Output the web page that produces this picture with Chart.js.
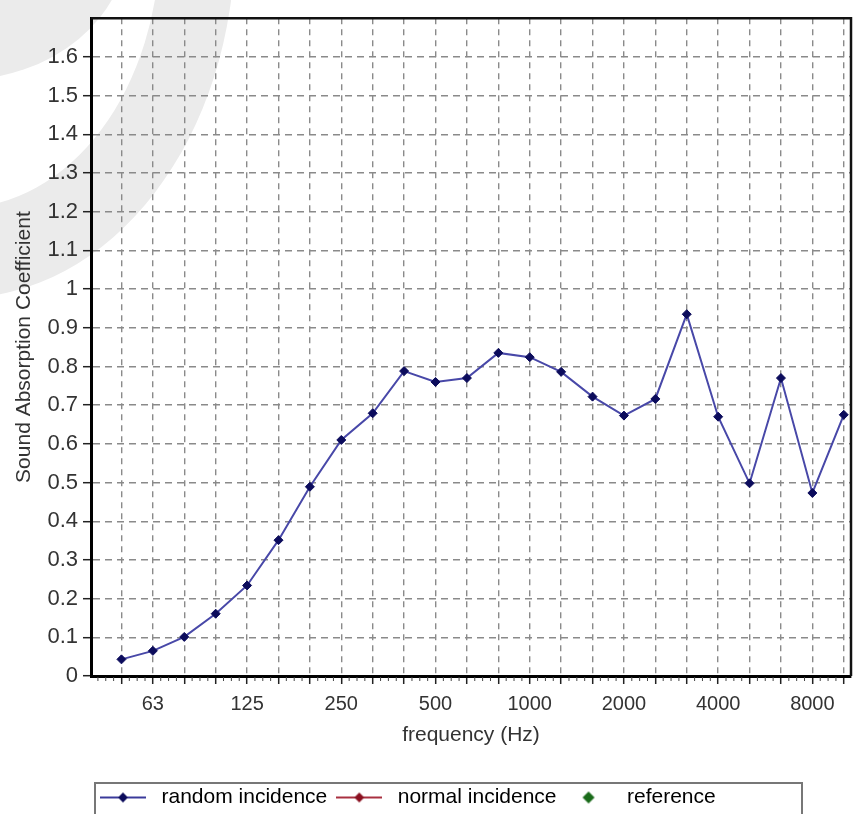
<!DOCTYPE html>
<html>
<head>
<meta charset="utf-8">
<script src="https://cdn.jsdelivr.net/npm/chart.js@4.4.1/dist/chart.umd.min.js"></script>
<style>
  body { margin: 0; background: #fff; }
</style>
</head>
<body>
<canvas id="myChart" width="862" height="814"></canvas>
<script>
// data
const freqBands = ['50', '63', '80', '100', '125', '160', '200', '250', '315', '400', '500', '630',
  '800', '1000', '1250', '1600', '2000', '2500', '3150', '4000', '5000', '6300', '8000', '10000'];
const randomIncidence = [0.043, 0.065, 0.101, 0.161, 0.234, 0.351, 0.489, 0.610, 0.679, 0.788, 0.760, 0.770,
  0.835, 0.824, 0.786, 0.722, 0.673, 0.716, 0.935, 0.670, 0.498, 0.770, 0.473, 0.675];
const normalIncidence = [];
const referenceValues = [];
const xTickLabels = ['63', '125', '250', '500', '1000', '2000', '4000', '8000'];
const yTicks = [0, 0.1, 0.2, 0.3, 0.4, 0.5, 0.6, 0.7, 0.8, 0.9, 1, 1.1, 1.2, 1.3, 1.4, 1.5, 1.6];
const seriesNames = ['random incidence', 'normal incidence', 'reference'];

const toPoints = arr => arr.map((v, i) => ({ x: i, y: v }));

// little legend icons: line with a diamond in the middle
function makeIcon(lineColor, dotColor, withLine, r) {
  const c = document.createElement('canvas');
  c.width = 46; c.height = 14;
  const g = c.getContext('2d');
  if (withLine) {
    g.strokeStyle = lineColor; g.lineWidth = 2;
    g.beginPath(); g.moveTo(0, 7); g.lineTo(46, 7); g.stroke();
  }
  g.fillStyle = dotColor;
  g.beginPath(); g.moveTo(23, 7 - r); g.lineTo(23 + r, 7); g.lineTo(23, 7 + r); g.lineTo(23 - r, 7); g.closePath(); g.fill();
  return c;
}
const icons = [
  makeIcon('#3a3a9a', '#0c0c5c', true, 5),
  makeIcon('#a83040', '#8a1020', true, 5),
  makeIcon('#1a6b1a', '#1a6b1a', false, 6)
];

// white page + faint watermark arcs
const background = {
  id: 'background',
  beforeDraw(chart) {
    const ctx = chart.ctx;
    ctx.save();
    ctx.fillStyle = '#fff';
    ctx.fillRect(0, 0, chart.width, chart.height);
    ctx.fillStyle = '#ebebeb';
    ctx.beginPath();
    ctx.ellipse(-40, -60, 275, 358, 0, 0, Math.PI * 2);
    ctx.ellipse(-40, -60, 200, 268, 0, 0, Math.PI * 2);
    ctx.fill('evenodd');
    ctx.beginPath();
    ctx.ellipse(-40, -60, 168, 140, 0, 0, Math.PI * 2);
    ctx.fill();
    ctx.restore();
  }
};

// frame round the plot, minor ticks, box round the legend
const frame = {
  id: 'frame',
  afterDraw(chart) {
    const ctx = chart.ctx;
    const a = chart.chartArea;
    const xs = chart.scales.x;
    ctx.save();
    ctx.strokeStyle = '#111';
    ctx.lineWidth = 2.5;
    ctx.beginPath();
    ctx.moveTo(a.left, a.top); ctx.lineTo(a.right, a.top); ctx.lineTo(a.right, a.bottom);
    ctx.stroke();
    // minor ticks under the frequency axis
    ctx.strokeStyle = '#444';
    ctx.lineWidth = 1;
    ctx.beginPath();
    for (let i = -1; i < freqBands.length; i++) {
      for (let k = 1; k < 4; k++) {
        const px = xs.getPixelForValue(i + k / 4);
        if (px <= a.left + 2 || px >= a.right - 1) continue;
        ctx.moveTo(px, a.bottom + 1); ctx.lineTo(px, a.bottom + 5);
      }
    }
    ctx.stroke();
    const lg = chart.legend;
    ctx.strokeStyle = '#777';
    ctx.lineWidth = 2;
    ctx.strokeRect(lg.left + 4, lg.top, 707, 60);
    ctx.restore();
  }
};

const data = {
  datasets: [{
    label: seriesNames[0],
    data: toPoints(randomIncidence),
    borderColor: '#4848a8',
    borderWidth: 2,
    pointStyle: 'rectRot',
    pointRadius: 4.5,
    pointBackgroundColor: '#0c0c5c',
    pointBorderColor: '#0c0c5c',
    pointBorderWidth: 1
  }, {
    label: seriesNames[1],
    data: toPoints(normalIncidence),
    borderColor: '#a83040',
    pointStyle: 'rectRot',
    pointBackgroundColor: '#8a1020'
  }, {
    label: seriesNames[2],
    data: toPoints(referenceValues),
    showLine: false,
    pointStyle: 'rectRot',
    pointBackgroundColor: '#1a6b1a'
  }]
};

const config = {
  type: 'line',
  data,
  plugins: [background, frame],
  options: {
    responsive: false,
    animation: false,
    layout: { padding: { top: 14, right: 11, left: 0, bottom: 0 } },
    plugins: {
      tooltip: { enabled: false },
      legend: {
        position: 'bottom',
        align: 'start',
        fullSize: false,
        maxHeight: 31,
        labels: {
          usePointStyle: true,
          pointStyleWidth: 56,
          padding: 4,
          color: '#222',
          font: { family: 'Liberation Sans, Arial, sans-serif', size: 21 },
          generateLabels: () => seriesNames.map((name, i) => ({
            text: name,
            pointStyle: icons[i],
            fillStyle: 'transparent',
            strokeStyle: 'transparent',
            lineWidth: 0,
            hidden: false,
            datasetIndex: i
          }))
        }
      }
    },
    scales: {
      x: {
        type: 'linear',
        min: -0.97,
        max: 23.23,
        afterBuildTicks: s => { s.ticks = freqBands.map((f, i) => ({ value: i })); },
        afterFit: s => { s.height = 107; },
        ticks: {
          autoSkip: false,
          maxRotation: 0,
          padding: 8,
          color: '#333',
          font: { family: 'Liberation Sans, Arial, sans-serif', size: 20 },
          callback: v => xTickLabels.includes(freqBands[v]) ? freqBands[v] : ''
        },
        grid: { color: '#8a8a8a', lineWidth: 1.4, tickColor: '#222', tickLength: 8, tickWidth: 1.5 },
        border: { color: '#000', width: 3, dash: [6, 5] },
        title: {
          display: true,
          text: 'frequency (Hz)',
          color: '#333',
          font: { family: 'Liberation Sans, Arial, sans-serif', size: 21 },
          padding: { top: 0, bottom: 35 }
        }
      },
      y: {
        min: 0,
        max: 1.7,
        afterBuildTicks: s => { s.ticks = yTicks.map(v => ({ value: v })); },
        afterFit: s => { s.width = 91; },
        ticks: {
          padding: 5,
          color: '#333',
          font: { family: 'Liberation Sans, Arial, sans-serif', size: 22 },
          callback: v => String(+v.toFixed(1))
        },
        grid: { color: '#8a8a8a', lineWidth: 1.4, tickColor: '#222', tickLength: 8, tickWidth: 1.5 },
        border: { color: '#000', width: 3, dash: [7, 5] },
        title: {
          display: true,
          text: 'Sound Absorption Coefficient',
          color: '#333',
          font: { family: 'Liberation Sans, Arial, sans-serif', size: 21 },
          padding: { top: 12, bottom: 0 }
        }
      }
    }
  }
};

const myChart = new Chart(document.getElementById('myChart'), config);
</script>
</body>
</html>
